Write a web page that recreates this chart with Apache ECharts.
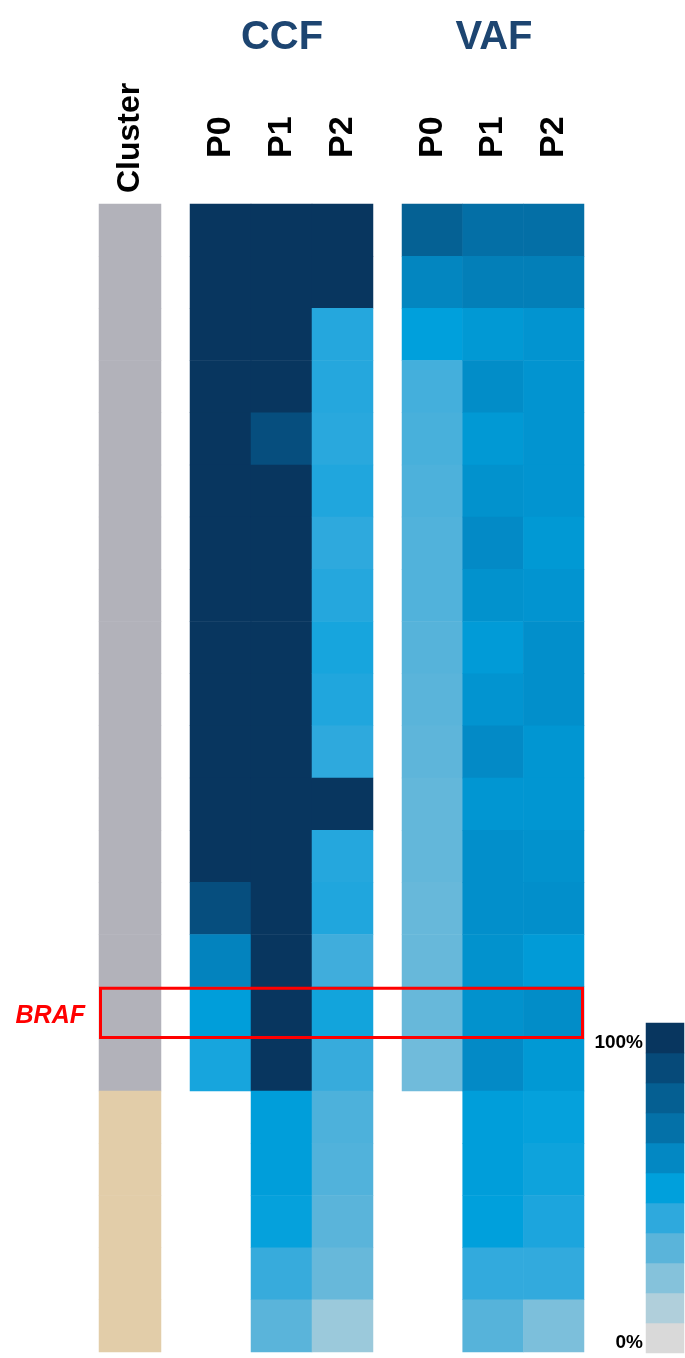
<!DOCTYPE html>
<html>
<head>
<meta charset="utf-8">
<script src="https://cdn.jsdelivr.net/npm/echarts@6/dist/echarts.min.js"></script>
<style>
  html, body { margin: 0; padding: 0; background: #fff; }
  #chart { width: 685px; height: 1358px; }
</style>
</head>
<body>
<div id="chart"></div>
<script>
  // heatmap data, rows top -> bottom
  var samples = ["P0", "P1", "P2"];
  var genes = ["mut01", "mut02", "mut03", "mut04", "mut05", "mut06", "mut07", "mut08", "mut09", "mut10", "mut11",
    "mut12", "mut13", "mut14", "mut15", "BRAF", "mut17", "mut18", "mut19", "mut20", "mut21", "mut22"];
  var cluster = [1, 1, 1, 1, 1, 1, 1, 1, 1, 1, 1, 1, 1, 1, 1, 1, 1, 2, 2, 2, 2, 2];
  var ccfP0 = [100, 100, 100, 100, 100, 100, 100, 100, 100, 100, 100, 100, 100, 88, 62, 51, 45, null, null, null, null, null];
  var ccfP1 = [100, 100, 100, 100, 88, 100, 100, 100, 100, 100, 100, 100, 100, 100, 100, 100, 100, 51, 51, 49, 38, 30];
  var ccfP2 = [100, 100, 42, 42, 41, 43, 40, 42, 45, 43, 40, 100, 42, 43, 36, 46, 38, 33, 32, 30, 27, 15];
  var vafP0 = [79, 61, 50, 35, 34, 33, 32, 32, 31, 30, 29, 28, 28, 27, 27, 27, 25, null, null, null, null, null];
  var vafP1 = [71, 64, 53, 58, 53, 56, 59, 56, 52, 55, 59, 54, 57, 57, 56, 56, 59, 51, 51, 50, 39, 31];
  var vafP2 = [71, 64, 55, 55, 55, 55, 53, 55, 57, 57, 54, 54, 56, 57, 52, 58, 53, 49, 47, 44, 39, 22];
  var scaleSteps = [0, 10, 20, 30, 40, 50, 60, 70, 80, 90, 100];
  var scaleColors = ["#d9d9d9", "#b0cfdb", "#85c2db", "#5ab4da", "#2ea9dd", "#00a0dc",
    "#0388c3", "#0471a8", "#055f92", "#064a79", "#08365f"];
  var highlight = "BRAF";

  function toCells(cols) {
    var out = [];
    cols.forEach(function(col, x) {
      col.forEach(function(v, y) {
        if (v != null) out.push([x, y, v]);
      });
    });
    return out;
  }

  var font = "'Liberation Sans', Arial, sans-serif";
  var colLabel = {
    rotate: -90,
    fontSize: 34,
    fontWeight: "bold",
    fontFamily: font,
    color: "#000"
  };
  var hiddenAxis = { axisLine: { show: false }, axisTick: { show: false }, splitLine: { show: false } };

  var chart = echarts.init(document.getElementById("chart"));
  var option = {
    animation: false,
    title: [
      { text: "CCF", left: 277, top: 13, textAlign: "center",
        textStyle: { fontSize: 40, fontWeight: "bold", color: "#1d4571", fontFamily: font } },
      { text: "VAF", left: 489, top: 13, textAlign: "center",
        textStyle: { fontSize: 40, fontWeight: "bold", color: "#1d4571", fontFamily: font } }
    ],
    grid: [
      { left: 99, top: 204, width: 62, height: 1148 },
      { left: 190, top: 204, width: 183, height: 1148 },
      { left: 402, top: 204, width: 182, height: 1148 },
      { left: 646, top: 1023, width: 38, height: 330 }
    ],
    xAxis: [
      Object.assign({ type: "category", gridIndex: 0, position: "top", data: ["Cluster"],
        axisLabel: Object.assign({ margin: 11 }, colLabel, { fontSize: 32 }) }, hiddenAxis),
      Object.assign({ type: "category", gridIndex: 1, position: "top", data: samples,
        axisLabel: Object.assign({ margin: 46 }, colLabel) }, hiddenAxis),
      Object.assign({ type: "category", gridIndex: 2, position: "top", data: samples,
        axisLabel: Object.assign({ margin: 46 }, colLabel) }, hiddenAxis),
      Object.assign({ type: "category", gridIndex: 3, data: [""], axisLabel: { show: false } }, hiddenAxis)
    ],
    yAxis: [
      Object.assign({ type: "category", gridIndex: 0, inverse: true, data: genes,
        axisLabel: {
          interval: 0, margin: 14,
          formatter: function(v) { return v === highlight ? "{hl|" + v + "}" : ""; },
          rich: { hl: { color: "#ff0000", fontSize: 25, fontWeight: "bold", fontStyle: "italic",
            fontFamily: font, padding: [6, 0, 0, 0] } }
        } }, hiddenAxis),
      Object.assign({ type: "category", gridIndex: 1, inverse: true, data: genes, axisLabel: { show: false } }, hiddenAxis),
      Object.assign({ type: "category", gridIndex: 2, inverse: true, data: genes, axisLabel: { show: false } }, hiddenAxis),
      Object.assign({ type: "category", gridIndex: 3, data: scaleSteps,
        axisLabel: {
          interval: 0, margin: 3,
          formatter: function(v) { v = +v; return v === 0 || v === 100 ? "{p|" + v + "%}" : ""; },
          rich: { p: { fontSize: 19, fontWeight: "bold", color: "#000", fontFamily: font, padding: [10, 0, 0, 0] } }
        } }, hiddenAxis)
    ],
    visualMap: [
      { type: "piecewise", show: false, seriesIndex: 0, dimension: 2,
        pieces: [{ value: 1, color: "#b2b2ba" }, { value: 2, color: "#e2cda9" }] },
      { type: "continuous", show: false, seriesIndex: [1, 2, 3], dimension: 2, min: 0, max: 100,
        inRange: { color: scaleColors } }
    ],
    series: [
      { type: "heatmap", xAxisIndex: 0, yAxisIndex: 0, data: toCells([cluster]) },
      { type: "heatmap", xAxisIndex: 1, yAxisIndex: 1, data: toCells([ccfP0, ccfP1, ccfP2]) },
      { type: "heatmap", xAxisIndex: 2, yAxisIndex: 2, data: toCells([vafP0, vafP1, vafP2]) },
      { type: "heatmap", xAxisIndex: 3, yAxisIndex: 3, data: scaleSteps.map(function(v, i) { return [0, i, v]; }) }
    ]
  };
  chart.setOption(option);

  // red box around the highlighted row, from cluster column to VAF P2
  var row = genes.indexOf(highlight);
  var a = chart.convertToPixel({ gridIndex: 0 }, [0, row]);
  var b = chart.convertToPixel({ gridIndex: 0 }, [0, row + 1]);
  var rowH = b[1] - a[1];
  var colW0 = option.grid[0].width;
  var c = chart.convertToPixel({ gridIndex: 2 }, [2, row]);
  var colW2 = option.grid[2].width / samples.length;
  var x0 = a[0] - colW0 / 2, x1 = c[0] + colW2 / 2;
  chart.setOption({
    graphic: [{
      type: "rect", z: 100,
      shape: { x: x0 + 1.5, y: a[1] - rowH / 2 + 1.5, width: x1 - x0 - 3, height: rowH - 3 },
      style: { fill: "none", stroke: "#ff0000", lineWidth: 3 }
    }]
  });
</script>
</body>
</html>
